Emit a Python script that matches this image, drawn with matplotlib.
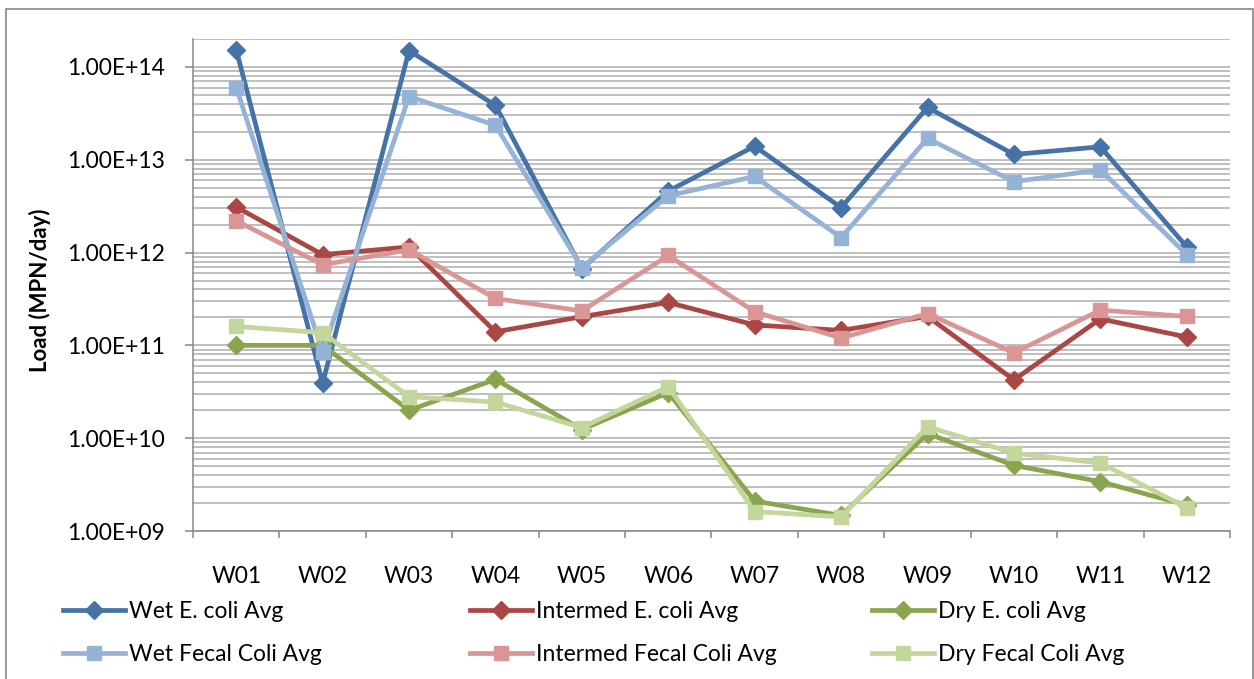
import matplotlib
matplotlib.use('Agg')
import matplotlib.pyplot as plt
import numpy as np
from matplotlib.patches import Rectangle
from matplotlib.ticker import LogLocator, NullFormatter, FuncFormatter

plt.rcParams['font.family'] = ['Lato', 'DejaVu Sans']

sites = ['W01', 'W02', 'W03', 'W04', 'W05', 'W06', 'W07', 'W08', 'W09', 'W10', 'W11', 'W12']

wet_ecoli = [1.54e14, 3.9e10, 1.5e14, 3.85e13, 6.7e11, 4.6e12, 1.4e13, 3.05e12, 3.66e13, 1.14e13, 1.38e13, 1.15e12]
inter_ecoli = [3.1e12, 9.5e11, 1.15e12, 1.4e11, 2.04e11, 2.9e11, 1.66e11, 1.45e11, 2.05e11, 4.25e10, 1.93e11, 1.23e11]
dry_ecoli = [1.0e11, 1.0e11, 2.0e10, 4.3e10, 1.24e10, 3.1e10, 2.1e9, 1.47e9, 1.12e10, 5.1e9, 3.4e9, 1.9e9]
wet_fecal = [6.0e13, 8.5e10, 4.8e13, 2.35e13, 6.9e11, 4.1e12, 6.6e12, 1.45e12, 1.7e13, 5.8e12, 7.8e12, 9.5e11]
inter_fecal = [2.2e12, 7.4e11, 1.07e12, 3.2e11, 2.35e11, 9.3e11, 2.3e11, 1.2e11, 2.2e11, 8.3e10, 2.4e11, 2.05e11]
dry_fecal = [1.6e11, 1.37e11, 2.8e10, 2.45e10, 1.3e10, 3.6e10, 1.62e9, 1.42e9, 1.33e10, 6.9e9, 5.4e9, 1.78e9]

labels = ['Wet E. coli Avg', 'Intermed E. coli Avg', 'Dry E. coli Avg',
          'Wet Fecal Coli Avg', 'Intermed Fecal Coli Avg', 'Dry Fecal Coli Avg']
values = [wet_ecoli, inter_ecoli, dry_ecoli, wet_fecal, inter_fecal, dry_fecal]
colors = ['#4572A7', '#AA4643', '#89A54E', '#95B3D7', '#D99694', '#C3D69B']
markers = ['D', 'D', 'D', 's', 's', 's']
msizes = [9.5, 9.5, 9.5, 10, 10, 10]

W, H = 1254, 679
FS = 16.5
fig = plt.figure(figsize=(W / 100, H / 100), dpi=100)
ax = fig.add_axes([193 / W, 1 - 531 / H, (1230 - 193) / W, (531 - 39) / H])

x = np.arange(len(sites))
handles = []
for i, (lab, vals, c, m, ms) in enumerate(zip(labels, values, colors, markers, msizes)):
    h, = ax.plot(x, vals, color=c, marker=m, ms=ms, mec=c, mfc=c, lw=3.4,
                 label=lab, zorder=3 + i, solid_joinstyle='miter')
    handles.append(h)

ax.set_yscale('log')
ax.set_ylim(1e9, 2e14)
ax.set_xlim(-0.5, len(sites) - 0.5)
ax.yaxis.set_major_locator(LogLocator(base=10, numticks=20))
ax.yaxis.set_minor_locator(LogLocator(base=10, subs=np.arange(2, 10), numticks=20))
ax.yaxis.set_major_formatter(FuncFormatter(lambda v, p: f'{v:.2E}'))
ax.yaxis.set_minor_formatter(NullFormatter())
ax.grid(which='both', axis='y', color='#BFBFBF', lw=1.4)
ax.set_axisbelow(True)

ax.set_xticks(np.arange(-0.5, len(sites), 1))
ax.set_xticklabels([])
ax.set_xticks(x, minor=True)
ax.set_xticklabels(sites, minor=True)
ax.tick_params(axis='x', which='minor', length=0, pad=25, labelsize=FS)
ax.tick_params(axis='x', which='major', length=5, width=1.1, color='#868686', direction='out')
ax.tick_params(axis='y', which='major', length=6, width=1.1, color='#868686', direction='out',
               pad=14, labelsize=FS)
ax.tick_params(axis='y', which='minor', length=0)

for s in ['top', 'right']:
    ax.spines[s].set_visible(False)
for s in ['left', 'bottom']:
    ax.spines[s].set_color('#868686')
    ax.spines[s].set_linewidth(1.1)

fig.text(40 / W, 1 - 290 / H, 'Load (MPN/day)', rotation=90, ha='center', va='center',
         fontsize=16, fontweight='bold')

col_x = [63, 470, 872]
for j in range(3):
    fig.legend(handles=[handles[j], handles[j + 3]], loc='upper left',
               bbox_to_anchor=(col_x[j] / W, 1 - 601 / H), frameon=False, fontsize=FS,
               handlelength=2.7, handletextpad=0.2, labelspacing=0.98,
               borderpad=0, borderaxespad=0, numpoints=1)

fig.add_artist(Rectangle((6 / W, -0.05), (1253 - 6) / W, 1 - 9 / H + 0.05,
                         transform=fig.transFigure, fill=False, edgecolor='#868686', lw=1.2))

fig.savefig('out.png', dpi=100)
